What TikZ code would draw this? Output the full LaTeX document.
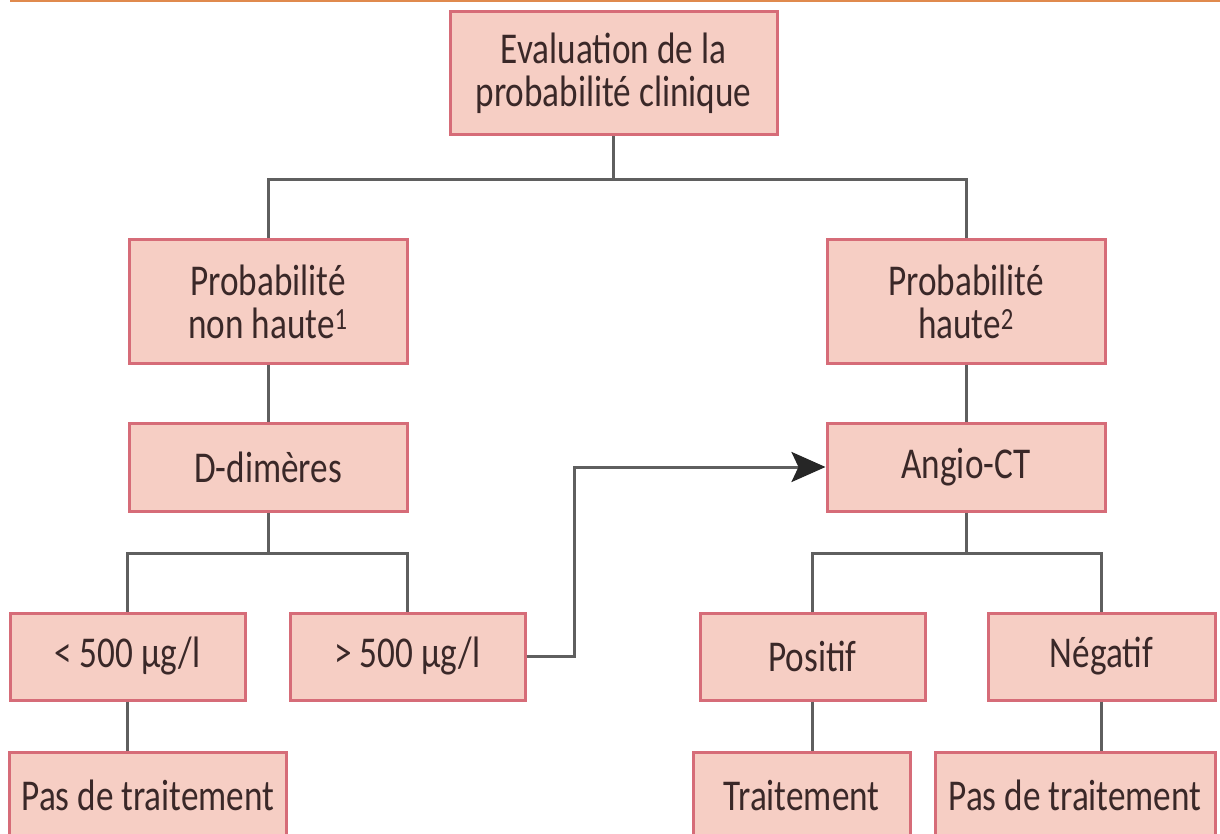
\documentclass[tikz,border=0pt]{standalone}
\usepackage{fontspec}
\setmainfont{Carlito}[FakeStretch=0.8]
\usetikzlibrary{arrows.meta,positioning}

\definecolor{boxfill}{RGB}{246,206,196}
\definecolor{boxline}{RGB}{214,108,120}
\definecolor{linkgray}{RGB}{95,95,95}
\definecolor{txtdark}{RGB}{58,40,40}
\definecolor{topline}{RGB}{224,138,78}

\tikzset{
  box/.style={draw=boxline, fill=boxfill, line width=3pt, text=txtdark,
    align=center, inner sep=0pt, minimum height=87pt,
    font=\fontsize{44}{43}\selectfont},
  bigbox/.style={box, minimum height=123pt},
  link/.style={draw=linkgray, line width=3pt},
}

\begin{document}
\begin{tikzpicture}[x=1pt, y=-1pt]
    \clip (0,0) rectangle (1220,834);
    \fill[white] (0,0) rectangle (1220,834);
    \draw[topline, line width=3pt] (10,1) -- (1220,1);

    \node[bigbox, minimum width=327pt] (eval) at (613.5,73.5) {Evaluation de la\\probabilit\'e clinique};
    \node[bigbox, minimum width=278pt] (pnh) at (268,301.5) {Probabilit\'e\\non haute\textsuperscript{1}};
    \node[bigbox, minimum width=278pt] (ph) at (966,301.5) {Probabilit\'e\\haute\textsuperscript{2}};
    \node[box, minimum width=278pt, minimum height=88pt] (ddim) at (268,467) {D-dim\`eres};
    \node[box, minimum width=278pt, minimum height=88pt] (angio) at (966,467) {Angio-CT};
    \node[box, minimum width=235pt] (inf) at (127.5,656.5) {<\,500 µg/l};
    \node[box, minimum width=235pt] (sup) at (407.5,656.5) {>\,500 µg/l};
    \node[box, minimum width=225pt] (pos) at (812.5,656.5) {Positif};
    \node[box, minimum width=227pt] (neg) at (1101.5,656.5) {N\'egatif};
    \node[box, minimum width=277pt] (pdt1) at (148,795.5) {Pas de traitement};
    \node[box, minimum width=217pt] (trait) at (801.5,795.5) {Traitement};
    \node[box, minimum width=280pt] (pdt2) at (1075,795.5) {Pas de traitement};

    \coordinate (j1) at (613.5,180);
    \coordinate (j2) at (268,553);
    \coordinate (j3) at (966,553);

    \draw[link] (eval) -- (j1);
    \draw[link] (pnh) |- (j1) -| (ph);
    \draw[link] (pnh) -- (ddim);
    \draw[link] (ph) -- (angio);
    \draw[link] (ddim) -- (j2);
    \draw[link] (inf) |- (j2) -| (sup);
    \draw[link] (angio) -- (j3);
    \draw[link] (pos) |- (j3) -| (neg);
    \draw[link] (inf.south) -- (inf.south |- pdt1.north);
    \draw[link] (pos.south) -- (pos.south |- trait.north);
    \draw[link] (neg.south) -- (neg.south |- pdt2.north);
    \draw[link, -{Stealth[length=34pt, width=30pt, inset=7pt, color=black!85]}]
        (sup.east) -- ++(48,0) |- (angio);
\end{tikzpicture}
\end{document}
